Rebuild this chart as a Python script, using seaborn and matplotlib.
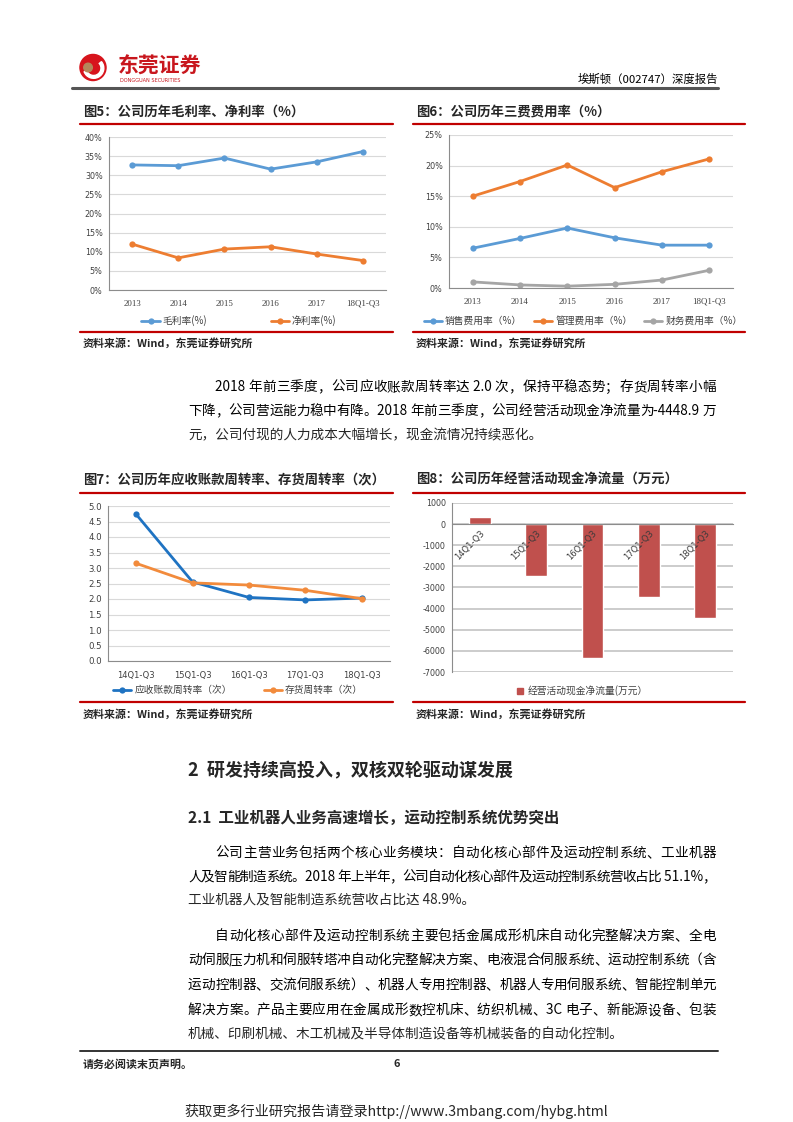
import re
import numpy as np
import pandas as pd
import matplotlib
matplotlib.use("Agg")
import matplotlib.pyplot as plt
import matplotlib.patches as mpatches
from matplotlib.lines import Line2D
from matplotlib.ticker import FixedLocator, NullFormatter
import seaborn as sns

# ---------------- data ----------------
years = ["2013", "2014", "2015", "2016", "2017", "18Q1-Q3"]
gross_margin = [32.7, 32.5, 34.5, 31.6, 33.5, 36.2]
net_margin = [12.0, 8.4, 10.7, 11.3, 9.4, 7.7]

sales_exp = [6.5, 8.1, 9.8, 8.2, 7.0, 7.0]
admin_exp = [15.0, 17.4, 20.1, 16.4, 19.0, 21.1]
fin_exp = [1.0, 0.5, 0.3, 0.6, 1.3, 2.9]

quarters = ["14Q1-Q3", "15Q1-Q3", "16Q1-Q3", "17Q1-Q3", "18Q1-Q3"]
recv_turn = [4.73, 2.55, 2.05, 1.97, 2.03]
inv_turn = [3.15, 2.52, 2.45, 2.28, 2.01]

cash_flow = [350, -2450, -6350, -3450, -4449]

# ---------------- setup ----------------
sns.set_theme(style="white")
plt.rcParams['font.family'] = ['Noto Sans CJK SC', 'DejaVu Sans']
plt.rcParams['axes.unicode_minus'] = False

W, H = 793, 1122
fig = plt.figure(figsize=(W / 100, H / 100), dpi=100)
fig.patch.set_facecolor("white")
renderer = fig.canvas.get_renderer()

RED = "#C00000"
GRID = "#D9D9D9"
SPINE = "#8C8C8C"
TXT = "#404040"


def rect(l, t, r, b):
    return [l / W, 1 - b / H, (r - l) / W, (b - t) / H]


def fx(x):
    return x / W


def fy(y):
    return 1 - y / H


def hline(x0, x1, y, color, lw):
    fig.add_artist(Line2D([fx(x0), fx(x1)], [fy(y), fy(y)], color=color, lw=lw,
                          transform=fig.transFigure))


def ftext(x, y, s, **kw):
    kw.setdefault("va", "center")
    return fig.text(fx(x), fy(y), s, **kw)


def justify(s, x0, x1, y, size, weight="normal", color="black"):
    tokens = re.findall(r'[\x00-\x7f]+|.', s)
    texts = [fig.text(0, 0, t, fontsize=size, fontweight=weight, color=color,
                      va="center", ha="left") for t in tokens]
    widths = [t.get_window_extent(renderer).width for t in texts]
    extra = (x1 - x0) - sum(widths)
    gap = extra / max(len(tokens) - 1, 1)
    x = x0
    for t, w in zip(texts, widths):
        t.set_position((fx(x), fy(y)))
        x += w + gap


# ---------------- header ----------------
logo = fig.add_axes(rect(78, 52, 108, 83))
logo.set_xlim(-1.15, 1.15)
logo.set_ylim(-1.15, 1.15)
logo.set_aspect("equal")
logo.axis("off")
logo.add_patch(mpatches.Circle((0, 0), 1.0, color="#D7141C"))
logo.add_patch(mpatches.Wedge((0.05, -0.05), 0.78, 200, 40, width=0.22, color="white"))
logo.add_patch(mpatches.Circle((-0.38, 0.0), 0.33, color="#B5865A"))

ftext(118, 66, "东莞证券", fontsize=15, fontweight="bold", color="#C8161D", ha="left")
ftext(120, 81, "DONGGUAN SECURITIES", fontsize=3.6, color="#C8161D", ha="left",
      family=["DejaVu Sans"])
ftext(718, 79, "埃斯顿（002747）深度报告", fontsize=8.2, color="black", ha="right")
hline(72, 718, 88, "#555555", 2.2)

# ---------------- helpers for charts ----------------
def style_line_axes(ax, n, ymax, ystep, fmt, xfont, xsize):
    ax.set_xlim(-0.5, n - 0.5)
    ax.set_ylim(0, ymax)
    ticks = np.arange(0, ymax + ystep / 2, ystep)
    ax.set_yticks(ticks)
    ax.set_yticklabels([fmt(v) for v in ticks], fontsize=5.8, color=TXT,
                       family=["DejaVu Sans"])
    ax.set_xticks(range(n))
    ax.xaxis.set_minor_locator(FixedLocator(np.arange(-0.5, n, 1.0)))
    ax.xaxis.set_minor_formatter(NullFormatter())
    ax.tick_params(axis="x", which="major", length=0, pad=7)
    ax.tick_params(axis="x", which="minor", length=3, color=SPINE, width=0.8)
    ax.tick_params(axis="y", length=2.5, color=SPINE, width=0.8, pad=2)
    for lab in ax.get_xticklabels():
        lab.set_fontsize(xsize)
        lab.set_color(TXT)
        lab.set_family(xfont)
    ax.grid(axis="y", color=GRID, lw=0.8)
    ax.set_axisbelow(True)
    for s in ["top", "right"]:
        ax.spines[s].set_visible(False)
    for s in ["left", "bottom"]:
        ax.spines[s].set_color(SPINE)
        ax.spines[s].set_linewidth(0.8)
    ax.set_xlabel("")
    ax.set_ylabel("")


def draw_lines(ax, cats, series, colors):
    df = pd.DataFrame({"cat": list(range(len(cats))) * len(series),
                       "val": sum([v for _, v in series], []),
                       "name": sum([[n] * len(cats) for n, _ in series], [])})
    sns.lineplot(data=df, x="cat", y="val", hue="name", palette=colors,
                 hue_order=[n for n, _ in series], marker="o", markersize=4.5,
                 markeredgewidth=0, lw=2.0, ax=ax, legend=False)
    ax.set_xticks(range(len(cats)))
    ax.set_xticklabels(cats)


def legend(ax, names, colors, cx, cy, colspace, marker="o", line=True, hl=1.9):
    handles = []
    for n, c in zip(names, colors):
        if line:
            handles.append(Line2D([], [], color=c, lw=2.0, marker=marker,
                                  markersize=4.5, markeredgewidth=0, label=n))
        else:
            handles.append(Line2D([], [], color=c, lw=0, marker="s",
                                  markersize=5, label=n))
    ax.legend(handles=handles, loc="center", bbox_to_anchor=(fx(cx), fy(cy)),
              bbox_transform=fig.transFigure, ncol=len(names), frameon=False,
              fontsize=7, columnspacing=colspace, handlelength=hl,
              handletextpad=0.3, labelcolor=TXT)


def chart_frame(x0, x1, title, ty, l1, l2, sy):
    ftext(x0 + 3, ty, title, fontsize=9.6, fontweight="bold", ha="left")
    hline(x0, x1, l1, RED, 1.6)
    hline(x0, x1, l2, RED, 1.6)
    ftext(x0 + 3, sy, "资料来源：Wind，东莞证券研究所", fontsize=7.9,
          fontweight="bold", ha="left")


# ---------------- chart 5 ----------------
chart_frame(80, 393, "图5：公司历年毛利率、净利率（%）", 112, 124, 332, 343)
ax5 = fig.add_axes(rect(109, 137, 386, 290))
c5 = ["#5B9BD5", "#ED7D31"]
draw_lines(ax5, years, [("毛利率(%)", gross_margin), ("净利率(%)", net_margin)], c5)
style_line_axes(ax5, len(years), 40, 5, lambda v: f"{int(v)}%", ["Liberation Serif"], 6.4)
legend(ax5, ["毛利率(%)", "净利率(%)"], c5, 239, 321, 6.5)

# ---------------- chart 6 ----------------
chart_frame(413, 745, "图6：公司历年三费费用率（%）", 112, 124, 332, 343)
ax6 = fig.add_axes(rect(449, 135, 733, 288))
c6 = ["#5B9BD5", "#ED7D31", "#A5A5A5"]
draw_lines(ax6, years, [("销售费用率（%）", sales_exp), ("管理费用率（%）", admin_exp),
                        ("财务费用率（%）", fin_exp)], c6)
style_line_axes(ax6, len(years), 25, 5, lambda v: f"{int(v)}%", ["Liberation Serif"], 6.4)
legend(ax6, ["销售费用率（%）", "管理费用率（%）", "财务费用率（%）"], c6, 583, 321, 1.2)

# ---------------- chart 7 ----------------
chart_frame(80, 393, "图7：公司历年应收账款周转率、存货周转率（次）", 480, 493, 702, 714)
ax7 = fig.add_axes(rect(108, 506, 390, 661))
c7 = ["#1F73C2", "#F28B3C"]
draw_lines(ax7, quarters, [("应收账款周转率（次）", recv_turn), ("存货周转率（次）", inv_turn)], c7)
style_line_axes(ax7, len(quarters), 5.0, 0.5, lambda v: f"{v:.1f}", ["DejaVu Sans"], 6.0)
for lab in ax7.get_yticklabels():
    lab.set_fontsize(6.2)
legend(ax7, ["应收账款周转率（次）", "存货周转率（次）"], c7, 238, 690, 3.3)

# ---------------- chart 8 ----------------
chart_frame(413, 745, "图8：公司历年经营活动现金净流量（万元）", 480, 493, 702, 714)
ax8 = fig.add_axes(rect(452, 503, 733, 672))
df8 = pd.DataFrame({"q": quarters, "v": cash_flow})
sns.barplot(data=df8, x="q", y="v", color="#C0504D", saturation=1, width=0.39,
            ax=ax8, zorder=2)
ax8.set_xlim(-0.5, len(quarters) - 0.5)
ax8.set_ylim(-7000, 1000)
yt8 = np.arange(-7000, 1001, 1000)
ax8.set_yticks(yt8)
ax8.set_yticklabels([str(int(v)) for v in yt8], fontsize=5.8, color=TXT,
                    family=["DejaVu Sans"])
ax8.grid(False)
for v in yt8:
    ax8.axhline(v, color="#C8C8C8", lw=1.3, zorder=0)
ax8.set_axisbelow(False)
for s in ["top", "right"]:
    ax8.spines[s].set_visible(False)
ax8.spines["left"].set_color(SPINE)
ax8.spines["left"].set_linewidth(0.8)
ax8.spines["bottom"].set_position(("data", 0))
ax8.spines["bottom"].set_color(SPINE)
ax8.spines["bottom"].set_linewidth(0.8)
ax8.xaxis.set_minor_locator(FixedLocator(np.arange(-0.5, len(quarters), 1.0)))
ax8.xaxis.set_minor_formatter(NullFormatter())
ax8.tick_params(axis="x", which="major", length=0, pad=3)
ax8.tick_params(axis="x", which="minor", length=3, color=SPINE, width=0.8)
ax8.tick_params(axis="y", length=2.5, color=SPINE, width=0.8, pad=2)
for lab in ax8.get_xticklabels():
    lab.set_rotation(45)
    lab.set_ha("right")
    lab.set_rotation_mode("anchor")
    lab.set_fontsize(6.0)
    lab.set_color("#3A3A3A")
    lab.set_family(["DejaVu Sans"])
ax8.set_xlabel("")
ax8.set_ylabel("")
legend(ax8, ["经营活动现金净流量(万元）"], ["#C0504D"], 582, 691, 1, line=False, hl=0.8)

# ---------------- body text ----------------
BS = 9.8
L, R = 188, 716
justify("2018 年前三季度，公司应收账款周转率达 2.0 次，保持平稳态势；存货周转率小幅",
        215, R, 387, BS)
justify("下降，公司营运能力稳中有降。2018 年前三季度，公司经营活动现金净流量为-4448.9 万",
        L, R, 411, BS)
ftext(L, 435, "元，公司付现的人力成本大幅增长，现金流情况持续恶化。", fontsize=BS, ha="left")

ftext(L, 771, "2  研发持续高投入，双核双轮驱动谋发展", fontsize=13, fontweight="bold", ha="left")
ftext(L, 818, "2.1  工业机器人业务高速增长，运动控制系统优势突出", fontsize=11.2,
      fontweight="bold", ha="left")

justify("公司主营业务包括两个核心业务模块：自动化核心部件及运动控制系统、工业机器",
        215, R, 853, BS)
justify("人及智能制造系统。2018 年上半年，公司自动化核心部件及运动控制系统营收占比 51.1%，",
        L, R, 877, BS)
ftext(L, 900, "工业机器人及智能制造系统营收占比达 48.9%。", fontsize=BS, ha="left")

justify("自动化核心部件及运动控制系统主要包括金属成形机床自动化完整解决方案、全电",
        215, R, 936, BS)
justify("动伺服压力机和伺服转塔冲自动化完整解决方案、电液混合伺服系统、运动控制系统（含",
        L, R, 960, BS)
justify("运动控制器、交流伺服系统）、机器人专用控制器、机器人专用伺服系统、智能控制单元",
        L, R, 985, BS)
justify("解决方案。产品主要应用在金属成形数控机床、纺织机械、3C 电子、新能源设备、包装",
        L, R, 1010, BS)
ftext(L, 1034, "机械、印刷机械、木工机械及半导体制造设备等机械装备的自动化控制。",
      fontsize=BS, ha="left")

# ---------------- footer ----------------
hline(80, 718, 1051, "#333333", 1.4)
ftext(83, 1064, "请务必阅读末页声明。", fontsize=7.9, fontweight="bold", ha="left")
ftext(397, 1064, "6", fontsize=7.9, fontweight="bold", ha="center")
ftext(396, 1111, "获取更多行业研究报告请登录http://www.3mbang.com/hybg.html",
      fontsize=10.2, ha="center")

fig.savefig("out.png", dpi=100, facecolor="white")
